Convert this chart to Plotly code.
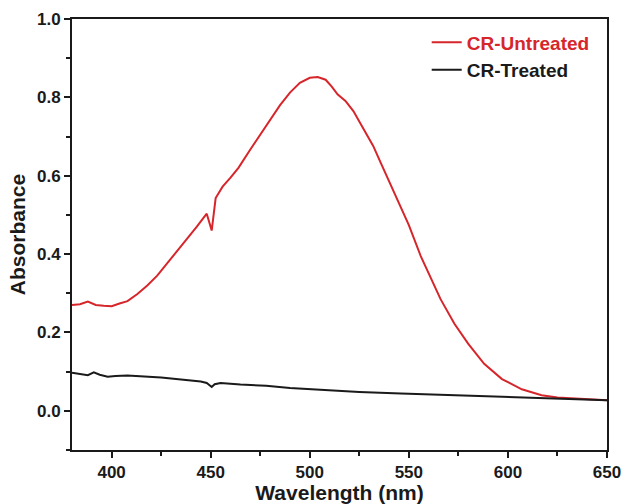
import plotly.graph_objects as go

# UV-vis absorbance spectra
wl_untreated = [380, 384, 388, 392, 396, 400, 404, 408, 413, 418, 423, 430, 438, 443, 448,
                450.5, 452.5, 456, 460, 464, 470, 477, 485, 490, 495, 500, 504, 508, 511,
                514, 518, 522, 527, 532, 536, 543, 550, 556, 561, 566, 573, 580, 588, 597,
                607, 617, 625, 637, 650]
abs_untreated = [0.270, 0.272, 0.279, 0.270, 0.268, 0.267, 0.274, 0.280, 0.298, 0.320, 0.345,
                 0.388, 0.437, 0.470, 0.503, 0.460, 0.543, 0.572, 0.595, 0.620, 0.667, 0.720,
                 0.780, 0.812, 0.837, 0.850, 0.852, 0.845, 0.828, 0.808, 0.791, 0.765, 0.722,
                 0.676, 0.631, 0.554, 0.474, 0.395, 0.340, 0.285, 0.222, 0.171, 0.120, 0.081,
                 0.055, 0.040, 0.034, 0.030, 0.027]

wl_treated = [380, 384, 388, 391, 394, 398, 402, 408, 415, 425, 435, 445, 448, 450.5, 452,
              455, 465, 478, 490, 500, 512, 525, 546, 565, 580, 600, 614, 630, 650]
abs_treated = [0.097, 0.094, 0.091, 0.098, 0.092, 0.087, 0.089, 0.090, 0.088, 0.085, 0.080,
               0.075, 0.071, 0.061, 0.068, 0.071, 0.067, 0.064, 0.058, 0.055, 0.051, 0.048,
               0.044, 0.041, 0.038, 0.035, 0.032, 0.030, 0.027]

red = "#d6262b"
font_family = "Liberation Sans, Arial, sans-serif"

fig = go.Figure()
fig.add_trace(go.Scatter(x=wl_untreated, y=abs_untreated, mode='lines',
                         name="<span style='color:%s'>CR-Untreated</span>" % red,
                         line=dict(color=red, width=2)))
fig.add_trace(go.Scatter(x=wl_treated, y=abs_treated, mode='lines',
                         name='CR-Treated',
                         line=dict(color='#1a1a1a', width=2)))

fig.update_layout(
    width=621, height=504,
    margin=dict(l=72, r=14, t=19, b=54, autoexpand=False),
    plot_bgcolor='white', paper_bgcolor='white',
    font=dict(family=font_family, color='#1a1a1a', size=17, weight='bold'),
    showlegend=True,
    legend=dict(x=0.663, y=0.99, xanchor='left', yanchor='top',
                bgcolor='rgba(0,0,0,0)', font=dict(size=19, weight='bold'),
                tracegroupgap=0),
)

fig.update_xaxes(
    range=[380, 650], tick0=400, dtick=50, automargin=False,
    ticklabeloverflow='allow',
    showgrid=False, zeroline=False,
    showline=True, linecolor='#1a1a1a', linewidth=2, mirror=True,
    ticks='outside', ticklen=6, tickwidth=2, tickcolor='#1a1a1a',
    minor=dict(dtick=25, tick0=400, ticks='outside', ticklen=4, tickwidth=2, tickcolor='#1a1a1a'),
    title=dict(text='Wavelength (nm)', font=dict(size=21, weight='bold'), standoff=6),
)
fig.update_yaxes(
    range=[-0.1, 1.0], tick0=0, dtick=0.2, tickformat='.1f', automargin=False,
    ticklabeloverflow='allow',
    showgrid=False, zeroline=False,
    showline=True, linecolor='#1a1a1a', linewidth=2, mirror=True,
    ticks='outside', ticklen=6, tickwidth=2, tickcolor='#1a1a1a',
    minor=dict(dtick=0.1, tick0=0, ticks='outside', ticklen=4, tickwidth=2, tickcolor='#1a1a1a'),
    title=dict(text='Absorbance', font=dict(size=21, weight='bold'), standoff=6),
)

# drop the page's default body margin so the figure sits at the window corner
fig.write_html("out.html", config={'displayModeBar': False},
               post_script="document.body.style.margin='0';")
